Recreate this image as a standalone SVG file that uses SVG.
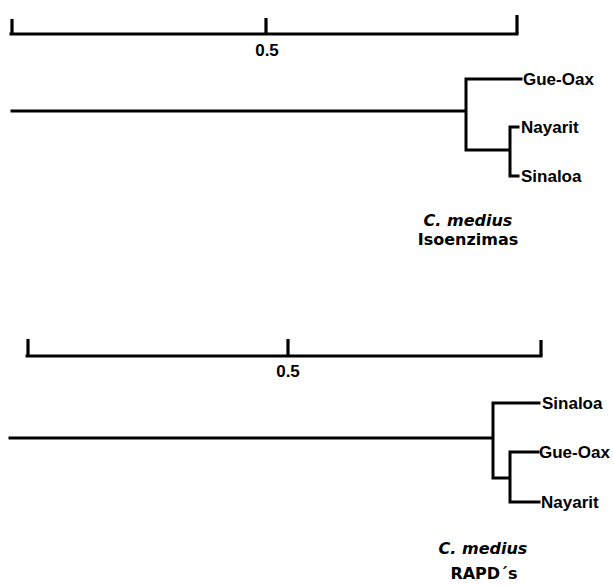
<svg xmlns="http://www.w3.org/2000/svg" width="614" height="585" viewBox="0 0 614 585">
  <style>
    .ln { stroke: #000; stroke-width: 3; fill: none; stroke-linecap: square; }
    .tk { stroke: #000; stroke-width: 3.2; fill: none; }
    .lbl { font-family: "Liberation Sans", Arial, sans-serif; font-size: 17px; font-weight: bold; fill: #000; }
    .num { font-family: "Liberation Sans", Arial, sans-serif; font-size: 17px; font-weight: bold; fill: #000; text-anchor: middle; }
    .ttl { font-family: "DejaVu Sans", sans-serif; font-size: 16px; font-weight: bold; fill: #000; text-anchor: middle; }
    .it { font-style: italic; }
  </style>
  <rect width="614" height="585" fill="#fff"/>

  <!-- upper tree: isoenzymes -->
  <g id="scale1">
    <path class="ln" d="M11 34 H517"/>
    <path class="tk" d="M12 34 V19 M266 34 V18 M517 34 V15"/>
    <text class="num" x="267" y="56">0.5</text>
  </g>
  <g id="tree1-edges">
    <path class="ln" d="M12 111 H466 M466 79 V150 M466 79 H521 M466 150 H510 M510 127 V176 M510 127 H518 M510 176 H518"/>
  </g>
  <g id="t1-gueoax"><text class="lbl" x="523" y="85">Gue-Oax</text></g>
  <g id="t1-nayarit"><text class="lbl" x="521" y="133">Nayarit</text></g>
  <g id="t1-sinaloa"><text class="lbl" x="521" y="182">Sinaloa</text></g>
  <g id="title1">
    <text class="ttl it" x="468" y="226">C. medius</text>
    <text class="ttl" x="468" y="245">Isoenzimas</text>
  </g>

  <!-- lower tree: RAPDs -->
  <g id="scale2">
    <path class="ln" d="M27 356 H541"/>
    <path class="tk" d="M28 356 V339 M288 356 V339 M541 356 V340"/>
    <text class="num" x="288" y="377">0.5</text>
  </g>
  <g id="tree2-edges">
    <path class="ln" d="M10 438 H493 M493 403 V478 M493 403 H539 M493 478 H510 M510 452 V502 M510 452 H538 M510 502 H539"/>
  </g>
  <g id="t2-sinaloa"><text class="lbl" x="542" y="409">Sinaloa</text></g>
  <g id="t2-gueoax"><text class="lbl" x="539" y="458">Gue-Oax</text></g>
  <g id="t2-nayarit"><text class="lbl" x="541" y="508">Nayarit</text></g>
  <g id="title2">
    <text class="ttl it" x="483" y="554">C. medius</text>
    <text class="ttl" x="484" y="579">RAPD´s</text>
  </g>
</svg>
